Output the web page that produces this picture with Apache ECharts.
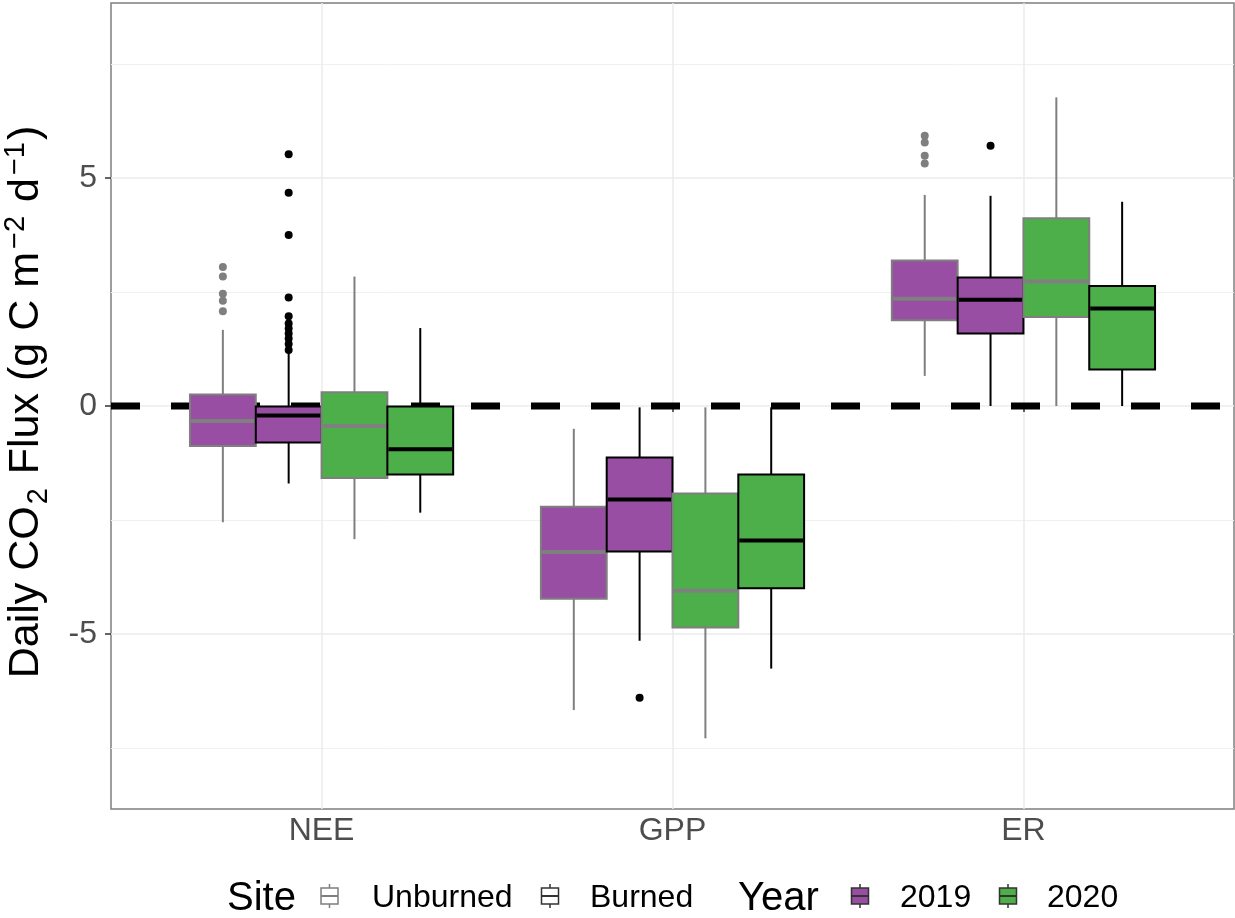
<!DOCTYPE html>
<html>
<head>
<meta charset="utf-8">
<script src="https://cdn.jsdelivr.net/npm/echarts@6/dist/echarts.min.js"></script>
<style>
  html, body { margin: 0; padding: 0; background: #ffffff; }
  #chart { width: 1235px; height: 918px; }
</style>
</head>
<body>
<div id="chart"></div>
<script>
// Flux variables on the x axis
const categories = ['NEE', 'GPP', 'ER'];

// Box statistics per flux: [lower whisker, Q1, median, Q3, upper whisker]
const unburned2019 = [
  [-2.55, -0.88, -0.33, 0.25, 1.67],
  [-6.67, -4.23, -3.20, -2.21, -0.50],
  [0.66, 1.88, 2.35, 3.19, 4.63]
];
const burned2019 = [
  [-1.70, -0.80, -0.21, -0.01, 1.18],
  [-5.15, -3.19, -2.05, -1.13, -0.03],
  [0.00, 1.59, 2.33, 2.82, 4.61]
];
const unburned2020 = [
  [-2.92, -1.58, -0.44, 0.30, 2.84],
  [-7.29, -4.86, -4.05, -1.92, -0.03],
  [0.00, 1.95, 2.73, 4.12, 6.77]
];
const burned2020 = [
  [-2.34, -1.50, -0.95, -0.01, 1.71],
  [-5.76, -4.00, -2.95, -1.50, -0.03],
  [0.00, 0.80, 2.14, 2.63, 4.48]
];

// Outlying days: [flux index, value]
const outUnburned2019 = [
  [0, 3.05], [0, 2.84], [0, 2.46], [0, 2.31], [0, 2.08],
  [2, 5.93], [2, 5.78], [2, 5.49], [2, 5.32]
];
const outBurned2019 = [
  [0, 5.52], [0, 4.68], [0, 3.75], [0, 2.38], [0, 1.97], [0, 1.81],
  [0, 1.70], [0, 1.59], [0, 1.48], [0, 1.36], [0, 1.23],
  [1, -6.40],
  [2, 5.71]
];
const outUnburned2020 = [];
const outBurned2020 = [];

// y axis ticks
const yTicks = [-5, 0, 5];
const yMinorTicks = [-7.5, -2.5, 2.5, 7.5];

const FONT = '"Liberation Sans", Arial, Helvetica, sans-serif';
const PURPLE = '#984ea3';
const GREEN = '#4daf4a';
const GREY = '#7f7f7f';
const BLACK = '#000000';

// four dodged boxes per flux, each 0.1875 wide
const BOX_W = 0.1875;
const offsets = [-1.5 * BOX_W, -0.5 * BOX_W, 0.5 * BOX_W, 1.5 * BOX_W];

function boxData(stats, slot) {
  return stats.map((s, i) => [i + 1 + offsets[slot]].concat(s));
}
function pointData(points, slot) {
  return points.map(p => [p[0] + 1 + offsets[slot], p[1]]);
}

function boxRenderer(fill, stroke) {
  return function (params, api) {
    const x = api.value(0);
    const half = BOX_W / 2;
    const tl = api.coord([x - half, api.value(4)]);
    const br = api.coord([x + half, api.value(2)]);
    const cx = api.coord([x, 0])[0];
    const yLow = api.coord([x, api.value(1)])[1];
    const yMed = api.coord([x, api.value(3)])[1];
    const yHigh = api.coord([x, api.value(5)])[1];
    return {
      type: 'group',
      children: [
        { type: 'line', shape: { x1: cx, y1: yHigh, x2: cx, y2: tl[1] }, style: { stroke: stroke, lineWidth: 2 } },
        { type: 'line', shape: { x1: cx, y1: br[1], x2: cx, y2: yLow }, style: { stroke: stroke, lineWidth: 2 } },
        { type: 'rect', shape: { x: tl[0], y: tl[1], width: br[0] - tl[0], height: br[1] - tl[1] },
          style: { fill: fill, stroke: stroke, lineWidth: 2 } },
        { type: 'line', shape: { x1: tl[0] + 1, y1: yMed, x2: br[0] - 1, y2: yMed }, style: { stroke: stroke, lineWidth: 4 } }
      ]
    };
  };
}

const groups = [
  { name: '2019 Unburned', stats: unburned2019, out: outUnburned2019, fill: PURPLE, stroke: GREY },
  { name: '2019 Burned', stats: burned2019, out: outBurned2019, fill: PURPLE, stroke: BLACK },
  { name: '2020 Unburned', stats: unburned2020, out: outUnburned2020, fill: GREEN, stroke: GREY },
  { name: '2020 Burned', stats: burned2020, out: outBurned2020, fill: GREEN, stroke: BLACK }
];

const series = [];
// dashed reference line at zero, under the boxes
series.push({
  type: 'line',
  silent: true,
  symbol: 'none',
  z: 1,
  data: [[0.4, 0], [3.6, 0]],
  lineStyle: { color: '#000', width: 7, type: [29, 31], cap: 'butt' },
  animation: false
});
groups.forEach((g, slot) => {
  series.push({
    type: 'custom',
    name: g.name,
    z: 2,
    renderItem: boxRenderer(g.fill, g.stroke),
    encode: { x: 0, y: [1, 2, 3, 4, 5] },
    data: boxData(g.stats, slot),
    animation: false
  });
  series.push({
    type: 'scatter',
    name: g.name + ' outliers',
    z: 3,
    symbolSize: 8,
    itemStyle: { color: g.stroke, opacity: 1 },
    data: pointData(g.out, slot),
    animation: false
  });
});

// legend keys drawn as small box glyphs
function keyGlyph(cx, fill, stroke, lw) {
  return {
    type: 'group',
    children: [
      { type: 'line', shape: { x1: cx, y1: 884, x2: cx, y2: 908 }, style: { stroke: stroke, lineWidth: lw } },
      { type: 'rect', shape: { x: cx - 8.5, y: 888, width: 17, height: 16 }, style: { fill: fill, stroke: stroke, lineWidth: lw } },
      { type: 'line', shape: { x1: cx - 8.5, y1: 896, x2: cx + 8.5, y2: 896 }, style: { stroke: stroke, lineWidth: lw + 0.5 } }
    ]
  };
}
// text placed by its bottom edge; y chosen so the baseline sits on the key row
function legendText(x, text, size, bottom) {
  return {
    type: 'text', x: x, y: bottom,
    style: { text: text, fontSize: size, fontFamily: FONT, fill: '#000', align: 'left', verticalAlign: 'bottom' }
  };
}

const option = {
  backgroundColor: '#ffffff',
  animation: false,
  grid: {
    left: 111, right: 1, top: 3, bottom: 109,
    show: true, borderColor: '#7f7f7f', borderWidth: 1.5, backgroundColor: 'transparent'
  },
  xAxis: {
    type: 'value', min: 0.4, max: 3.6,
    axisLine: { show: false },
    axisTick: { show: true, customValues: [1, 2, 3], length: 6, lineStyle: { color: '#333', width: 1.5 } },
    axisLabel: {
      customValues: [1, 2, 3], margin: 6, fontSize: 32, fontFamily: FONT, color: '#4d4d4d',
      formatter: v => categories[Math.round(v) - 1]
    },
    splitLine: { show: true, lineStyle: { color: '#ebebeb', width: 1.5 } }
  },
  yAxis: [
    {
      type: 'value', min: -8.84, max: 8.84,
      axisLine: { show: false },
      axisTick: { show: true, customValues: yTicks, length: 6, lineStyle: { color: '#333', width: 1.5 } },
      axisLabel: { customValues: yTicks, margin: 14, fontSize: 32, fontFamily: FONT, color: '#4d4d4d' },
      splitLine: { show: true, lineStyle: { color: '#ebebeb', width: 1.5 } }
    },
    {
      type: 'value', min: -8.84, max: 8.84, position: 'left',
      axisLine: { show: false },
      axisTick: { show: false, customValues: yMinorTicks },
      axisLabel: { show: false, customValues: yMinorTicks },
      splitLine: { show: true, lineStyle: { color: '#f0f0f0', width: 1 } }
    }
  ],
  series: series,
  graphic: [
    {
      type: 'text', x: 26, y: 402, rotation: Math.PI / 2,
      style: {
        text: '{b|Daily CO}{sub|2}{b| Flux (g C m}{sup|\u22122}{b| d}{sup|\u22121}{b|)}',
        align: 'center', verticalAlign: 'middle',
        rich: {
          b: { fontSize: 43, fontFamily: FONT, fill: '#000', lineHeight: 68 },
          sub: { fontSize: 29, fontFamily: FONT, fill: '#000', padding: [26, 2, 0, 2] },
          sup: { fontSize: 29, fontFamily: FONT, fill: '#000', padding: [0, 2, 20, 3] }
        }
      }
    },
    legendText(227, 'Site', 40, 919),
    keyGlyph(329.5, '#ffffff', GREY, 1.5),
    legendText(372, 'Unburned', 32, 914),
    keyGlyph(550, '#ffffff', '#333333', 1.5),
    legendText(590, 'Burned', 32, 914),
    legendText(738, 'Year', 40, 919),
    keyGlyph(860, PURPLE, '#333333', 1.5),
    legendText(900, '2019', 32, 914),
    keyGlyph(1008, GREEN, '#333333', 1.5),
    legendText(1047, '2020', 32, 914)
  ]
};

const chart = echarts.init(document.getElementById('chart'), null, { renderer: 'canvas' });
chart.setOption(option);
</script>
</body>
</html>
